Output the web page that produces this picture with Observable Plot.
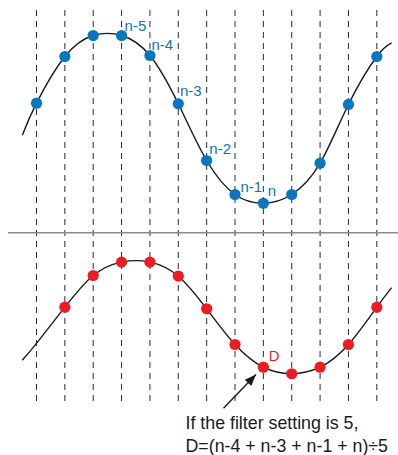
<!DOCTYPE html>
<html><head><meta charset="utf-8">
<script src="https://cdn.jsdelivr.net/npm/d3@7"></script>
<script src="https://cdn.jsdelivr.net/npm/@observablehq/plot@0.6"></script>
<style>html,body{margin:0;padding:0;background:#fff;}</style>
</head><body><div id="chart"></div>
<script>
// sampling instants (one dashed line each)
const samples = [0,1,2,3,4,5,6,7,8,9,10,11,12];
// raw input signal at each sample (top panel)
const rawValues = [0.186, 0.735, 0.982, 0.982, 0.747, 0.179, -0.488, -0.888, -0.991, -0.888, -0.52, 0.171, 0.735];
// the drawn curve continues a little before/after the samples
const rawLeadX = [-0.49], rawLeadV = [-0.182];
const rawTailX = [12.51], rawTailV = [0.892];
// filtered (moving-average) signal (bottom panel)
const filteredSamples = [1,2,3,4,5,6,7,8,9,10,11,12];
const filteredValues = [0.115, 0.488, 0.645, 0.645, 0.48, 0.096, -0.324, -0.591, -0.668, -0.591, -0.324, 0.115];
const filteredLeadX = [-0.49, 0], filteredLeadV = [-0.504, -0.31];
const filteredTailX = [12.51], filteredTailV = [0.339];
// labels
const rawLabelSamples = [3,4,5,6,7,8];
const rawLabels = ["n-5","n-4","n-3","n-2","n-1","n"];
const filteredLabelSample = 8;
const filteredLabel = "D";
const captionText = ["If the filter setting is 5,", "D=(n-4 + n-3 + n-1 + n)÷5"];

// layout helpers
const panelOffset = -2.329;   // baseline of the lower panel, in signal units
const separatorLevel = -1.339;
const blue = "#0877c0", red = "#ec1c24", ink = "#1a1a1a";
const font = "'Liberation Sans', Arial, Helvetica, sans-serif";

const rawCurve = [
  ...rawLeadX.map((x,i)=>({x, v: rawLeadV[i]})),
  ...samples.map((x,i)=>({x, v: rawValues[i]})),
  ...rawTailX.map((x,i)=>({x, v: rawTailV[i]}))
];
const rawDots = samples.map((x,i)=>({x, v: rawValues[i]}));
const filtCurve = [
  ...filteredLeadX.map((x,i)=>({x, v: filteredLeadV[i] + panelOffset})),
  ...filteredSamples.map((x,i)=>({x, v: filteredValues[i] + panelOffset})),
  ...filteredTailX.map((x,i)=>({x, v: filteredTailV[i] + panelOffset}))
];
const filtDots = filteredSamples.map((x,i)=>({x, v: filteredValues[i] + panelOffset}));

const labelOffsets = [[3,-5],[1.5,-5.5],[1.6,-7.8],[2.7,-6.3],[5.5,-2.5],[4.5,-7]];
const labelMarks = rawLabels.map((t,i)=>{
  const s = rawLabelSamples[i];
  return Plot.text([{x: s, v: rawValues[samples.indexOf(s)], t}], {
    x: "x", y: "v", text: "t", fill: blue, fontSize: 15, textAnchor: "start",
    lineAnchor: "bottom", dx: labelOffsets[i][0], dy: labelOffsets[i][1]
  });
});
const dPoint = {x: filteredLabelSample, v: filteredValues[filteredSamples.indexOf(filteredLabelSample)] + panelOffset, t: filteredLabel};

const arrowHead = {
  draw(ctx) { ctx.moveTo(0, 0); ctx.lineTo(4.5, 11.5); ctx.lineTo(-4.5, 11.5); ctx.closePath(); }
};
const arrowTail = {x: 6.594, v: -3.402}, arrowTip = {x: 7.74, v: -3.006};

const chart = Plot.plot({
  width: 398, height: 455,
  marginLeft: 8, marginRight: 0, marginTop: 10, marginBottom: 53,
  style: {fontFamily: font, background: "#fff"},
  x: {type: "linear", domain: [0, 12], range: [36, 376.3], axis: null},
  y: {type: "linear", domain: [-1, 1], range: [203.5, 33.5], axis: null},
  marks: [
    Plot.ruleX(samples, {x: d => d, stroke: "#2a2a2a", strokeWidth: 1, strokeDasharray: "6,5"}),
    Plot.ruleY([separatorLevel], {stroke: "#8a8a8a", strokeWidth: 1.6}),
    Plot.line(rawCurve, {x: "x", y: "v", curve: "natural", stroke: ink, strokeWidth: 1.4}),
    Plot.line(filtCurve, {x: "x", y: "v", curve: "natural", stroke: ink, strokeWidth: 1.4}),
    Plot.dot(rawDots, {x: "x", y: "v", r: 5.6, fill: blue}),
    Plot.dot(filtDots, {x: "x", y: "v", r: 5.6, fill: red}),
    ...labelMarks,
    Plot.text([dPoint], {x: "x", y: "v", text: "t", fill: red, fontSize: 15, textAnchor: "start", lineAnchor: "bottom", dx: 5.5, dy: -6.5}),
    Plot.link([{x1: arrowTail.x, y1: arrowTail.v, x2: arrowTip.x, y2: arrowTip.v}], {x1: "x1", y1: "y1", x2: "x2", y2: "y2", stroke: ink, strokeWidth: 1.4}),
    Plot.dot([arrowTip], {x: "x", y: "v", symbol: arrowHead, fill: ink, stroke: "none", rotate: 44}),
    Plot.text([{x: 5.254, v: -3.915, t: captionText.join("\n")}], {
      x: "x", y: "v", text: "t", fill: ink, fontSize: 17.8, textAnchor: "start", lineAnchor: "bottom", lineHeight: 1.29
    })
  ]
});
document.getElementById("chart").appendChild(chart);
</script>
</body></html>
